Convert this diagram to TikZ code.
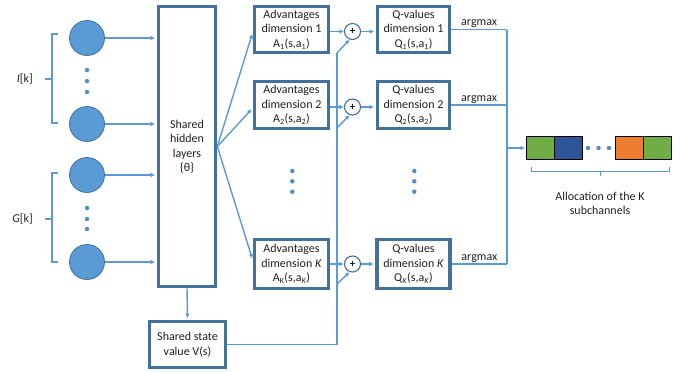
\documentclass[tikz,border=0pt]{standalone}
\usepackage{fontspec}
\setmainfont{Carlito}
\usetikzlibrary{arrows.meta,calc}
\definecolor{lblue}{HTML}{5B9BD5}
\definecolor{dblue}{HTML}{41719C}
\definecolor{cgreen}{HTML}{70AD47}
\definecolor{cblue}{HTML}{2F5597}
\definecolor{corange}{HTML}{ED7D31}
\definecolor{txt}{HTML}{202020}
\begin{document}
\begin{tikzpicture}[x=1pt,y=-1pt,
  conn/.style={draw=lblue,line width=1.4pt},
  arr/.style={conn,-{Latex[length=4.5pt,width=4.5pt]}},
  bigbox/.style={draw=dblue,line width=3.6pt,fill=white,align=center,text=txt,font=\fontsize{12}{14.5}\selectfont,inner sep=0pt},
  neuron/.style={circle,fill=lblue,draw=dblue,line width=0.8pt,minimum size=35pt,inner sep=0pt},
  plusnode/.style={circle,draw=dblue,line width=1.1pt,fill=white,minimum size=16pt,inner sep=0pt,text=txt,font=\fontsize{11}{11}\selectfont\bfseries},
  dotnode/.style={circle,fill=lblue!70!dblue,minimum size=4.5pt,inner sep=0pt},
  cell/.style={draw=black,line width=1pt,minimum width=28pt,minimum height=22.5pt,inner sep=0pt},
  lbl/.style={font=\fontsize{12}{14.5}\selectfont,text=txt,align=center,inner sep=1pt}
]
\useasboundingbox (0,0) rectangle (688,372);

% input neurons
\node[neuron] (n1) at (87,38) {};
\node[neuron] (n2) at (87,124) {};
\node[neuron] (n3) at (87,175) {};
\node[neuron] (n4) at (87,262) {};
\foreach \y/\n in {70/d1,81/d2,92/d3,208/d4,219/d5,229/d6}
  \node[dotnode] (\n) at (87,\y) {};

% input brackets
\draw[conn] (58,34) -- (52,34) -- (52,123) -- (58,123);
\draw[conn] (45,79) -- (52,79);
\draw[conn] (58,173) -- (52,173) -- (52,262) -- (58,262);
\draw[conn] (45,219) -- (52,219);
\node[lbl,anchor=east] (ilab) at (34,79) {\textit{I}[k]};
\node[lbl,anchor=east] (glab) at (34,219) {\textit{G}[k]};

% shared hidden layers
\node[bigbox,minimum width=57pt,minimum height=280pt] (hid) at (187,146.5) {Shared\\hidden\\layers\\\{θ\}};
\foreach \n in {n1,n2,n3,n4}
  \draw[arr,shorten >=1.5pt] (\n) -- (\n -| hid.west);

% state value
\node[bigbox,minimum width=76pt,minimum height=46pt] (st) at (187.5,344.5) {Shared state\\value V(s)};
\draw[arr,shorten >=1.5pt] (hid.south) -- (st.north);

% advantages
\node[bigbox,minimum width=74pt,minimum height=46pt] (a1) at (291.5,29.5) {Advantages\\dimension 1\\A\textsubscript{1}(s,a\textsubscript{1})};
\node[bigbox,minimum width=74pt,minimum height=47pt] (a2) at (291.5,105) {Advantages\\dimension 2\\A\textsubscript{2}(s,a\textsubscript{2})};
\node[bigbox,minimum width=74pt,minimum height=49pt] (aK) at (291.5,264) {Advantages\\dimension \textit{K}\\A\textsubscript{K}(s,a\textsubscript{\textit{K}})};
\draw[arr,shorten >=1.5pt] (hid.east) -- ($(a1.west)+(0,3)$);
\draw[arr,shorten >=1.5pt] (hid.east) -- ($(a2.west)+(0,3)$);
\draw[arr,shorten >=1.5pt] (hid.east) -- ($(aK.west)+(0,-4)$);
\foreach \y/\n in {171/e1,181.3/e2,191.7/e3}
  \node[dotnode] (\n) at (292.3,\y) {};

% plus nodes
\node[plusnode] (p1) at (352.5,31.5) {+};
\node[plusnode] (p2) at (352.5,107) {+};
\node[plusnode] (pK) at (352.5,264) {+};

% Q-values
\node[bigbox,minimum width=72pt,minimum height=46pt] (q1) at (413.5,29.5) {Q-values\\dimension 1\\Q\textsubscript{1}(s,a\textsubscript{1})};
\node[bigbox,minimum width=72pt,minimum height=47pt] (q2) at (413.5,105) {Q-values\\dimension 2\\Q\textsubscript{2}(s,a\textsubscript{2})};
\node[bigbox,minimum width=73pt,minimum height=49pt] (qK) at (413.5,264) {Q-values\\dimension \textit{K}\\Q\textsubscript{\textit{K}}(s,a\textsubscript{\textit{K}})};
\foreach \y/\n in {171/f1,181.3/f2,191.7/f3}
  \node[dotnode] (\n) at (414.3,\y) {};

% adv -> plus -> Q
\draw[arr] (a1.east |- p1) -- (p1.west);
\draw[arr] (a2.east |- p2) -- (p2.west);
\draw[arr] (aK.east |- pK) -- (pK.west);
\draw[arr,shorten >=1.5pt] (p1.east) -- (q1.west |- p1);
\draw[arr,shorten >=1.5pt] (p2.east) -- (q2.west |- p2);
\draw[arr,shorten >=1.5pt] (pK.east) -- (qK.west |- pK);

% state value bus
\coordinate (vtop) at (337,53);
\coordinate (b2) at (337,128);
\coordinate (bK) at (337,284);
\draw[conn] (st.east) -| (vtop);
\draw[arr] (vtop) -- (p1.250);
\draw[arr] (b2) -- (p2.250);
\draw[arr] (bK) -- (pK.250);

% argmax bus
\coordinate (rbx) at (507,0);
\draw[conn] (q1.east) -- node[lbl,above] (am1) {argmax} (q1.east -| rbx);
\draw[conn] (q2.east) -- node[lbl,above] (am2) {argmax} (q2.east -| rbx);
\draw[conn] (qK.east) -- node[lbl,above] (amK) {argmax} (qK.east -| rbx);
\draw[conn] (q1.east -| rbx) -- (qK.east -| rbx);

% allocation
\node[cell,fill=cgreen] (c1) at (540,148) {};
\node[cell,fill=cblue] (c2) at (568,148) {};
\node[cell,fill=corange] (c3) at (629,148) {};
\node[cell,fill=cgreen] (c4) at (657,148) {};
\foreach \x/\n in {588/g1,598.5/g2,609/g3}
  \node[dotnode] (\n) at (\x,148) {};
\draw[arr,shorten >=0.5pt] (c1.west -| rbx) -- (c1.west);
\draw[conn,line width=1pt] (531,167) -- (531,171.7) -- (669,171.7) -- (669,167);
\draw[conn,line width=1pt] (600,171.7) -- (600,175.5);
\node[lbl] (alloc) at (600,203.5) {Allocation of the K\\subchannels};
\end{tikzpicture}
\end{document}
